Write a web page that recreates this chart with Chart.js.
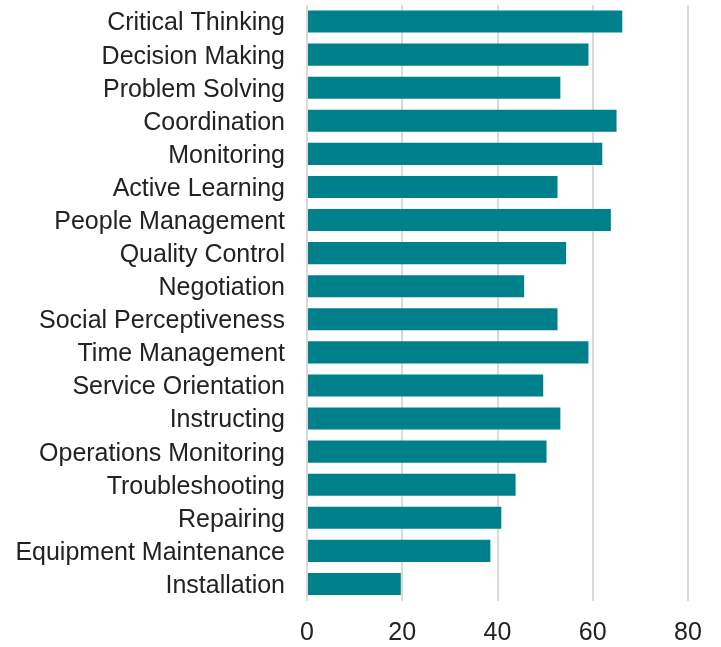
<!DOCTYPE html>
<html>
<head>
<meta charset="utf-8">
<script src="https://cdn.jsdelivr.net/npm/chart.js@4"></script>
<style>
  html, body { margin: 0; padding: 0; background: #fff; }
  #wrap { width: 721px; height: 647px; }
</style>
</head>
<body>
<div id="wrap"><canvas id="skillsChart"></canvas></div>
<script>
const skills = [
    "Critical Thinking", "Decision Making", "Problem Solving", "Coordination",
    "Monitoring", "Active Learning", "People Management", "Quality Control",
    "Negotiation", "Social Perceptiveness", "Time Management", "Service Orientation",
    "Instructing", "Operations Monitoring", "Troubleshooting", "Repairing",
    "Equipment Maintenance", "Installation"
];
const scores = [
    66.2, 59.1, 53.2, 65.0,
    62.0, 52.6, 63.8, 54.4,
    45.6, 52.6, 59.1, 49.6,
    53.2, 50.3, 43.8, 40.8,
    38.5, 19.7
];
const xTicks = [0, 20, 40, 60, 80];

const fontFamily = '"Helvetica Neue", Helvetica, "Liberation Sans", Arial, sans-serif';

const ctx = document.getElementById("skillsChart").getContext("2d");

const chart = new Chart(ctx, {
    type: 'bar',
    data: {
        labels: skills,
        datasets: [{
            data: scores,
            backgroundColor: '#00808a',
            borderWidth: 0,
            barPercentage: 0.665,
            categoryPercentage: 1.0
        }]
    },
    options: {
        indexAxis: 'y',
        responsive: true,
        maintainAspectRatio: false,
        animation: false,
        layout: { padding: { top: 5, right: 33, bottom: 0, left: 0 } },
        plugins: {
            legend: { display: false },
            tooltip: { enabled: false }
        },
        scales: {
            x: {
                min: xTicks[0],
                max: xTicks[xTicks.length - 1],
                afterBuildTicks: (scale) => {
                    scale.ticks = xTicks.map(v => ({ value: v }));
                },
                afterFit: (scale) => {
                    scale.height = 46.5;
                    scale.paddingLeft = 0;
                    scale.paddingRight = 0;
                },
                grid: { color: '#dadada', lineWidth: 2, drawTicks: false },
                border: { display: false },
                ticks: {
                    padding: 18,
                    color: '#222',
                    font: { family: fontFamily, size: 25 }
                }
            },
            y: {
                afterFit: (scale) => {
                    scale.width = 307;
                    scale.paddingTop = 0;
                    scale.paddingBottom = 0;
                },
                grid: { display: false, drawTicks: false },
                border: { display: false },
                ticks: {
                    padding: 22,
                    labelOffset: 2,
                    color: '#222',
                    autoSkip: false,
                    font: { family: fontFamily, size: 25 }
                }
            }
        }
    }
});
</script>
</body>
</html>
